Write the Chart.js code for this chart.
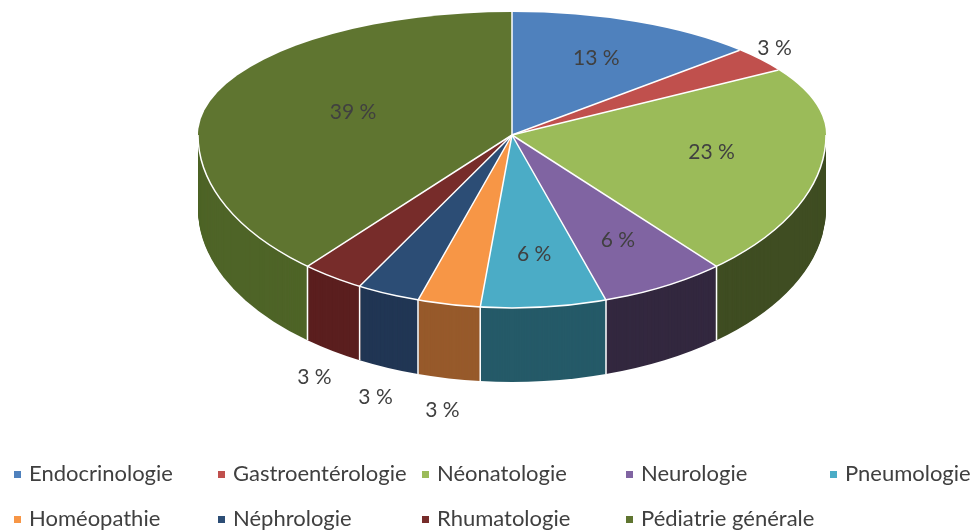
<!DOCTYPE html>
<html>
<head>
<meta charset="utf-8">
<script src="https://cdn.jsdelivr.net/npm/chart.js@4"></script>
<style>
  html, body { margin: 0; padding: 0; background: #fff; }
  canvas { display: block; }
</style>
</head>
<body>
<canvas id="pieChart" width="979" height="530"></canvas>
<script>
// Répartition par spécialité (effectifs)
const services = ["Endocrinologie", "Gastroentérologie", "Néonatologie", "Neurologie", "Pneumologie",
    "Homéopathie", "Néphrologie", "Rhumatologie", "Pédiatrie générale"];
const effectifs = [4, 1, 7, 2, 2, 1, 1, 1, 12];

const topColors = ["#4F81BD", "#C0504D", "#9BBB59", "#8064A2", "#4BACC6",
    "#F79646", "#2C4D75", "#772C2A", "#5F7530"];
const sideColors = ["#2E4D75", "#7A2E2C", "#3F4D22", "#33283F", "#255A68",
    "#975A2B", "#213654", "#5B1F1F", "#4E6427"];

// pie on screen: back half and front half have different heights (fake perspective)
const CX = 512, VY = 135, RX = 314, RY_BACK = 123, RY_FRONT = 173, DEPTH = 74;
const R = 150;
const FONT = "21px Lato, 'Open Sans', sans-serif";
const TEXT = "#404040";

function setFace(ctx, arc, ry, dy) {
    const sx = RX / R, sy = ry / R;
    ctx.setTransform(sx, 0, 0, sy, CX - sx * arc.x, VY + dy - sy * arc.y);
}

function clipY(ctx, y0, y1) {
    ctx.setTransform(1, 0, 0, 1, 0, 0);
    ctx.beginPath();
    ctx.rect(0, y0, 979, y1 - y0);
    ctx.clip();
}

const pie3d = {
    id: "pie3d",
    beforeDatasetsDraw(chart) {
        const ctx = chart.ctx;
        const arcs = chart.getDatasetMeta(0).data;
        // side walls: stack of shifted copies of the front half, bottom first
        ctx.save();
        clipY(ctx, VY, 530);
        for (let d = DEPTH; d >= 1; d--) {
            setFace(ctx, arcs[0], RY_FRONT, d);
            arcs.forEach((arc, i) => {
                const old = arc.options.backgroundColor;
                arc.options.backgroundColor = sideColors[i];
                arc.draw(ctx);
                arc.options.backgroundColor = old;
            });
        }
        ctx.restore();
        // back half of the top face is drawn by the controller
        ctx.save();
        clipY(ctx, 0, VY);
        setFace(ctx, arcs[0], RY_BACK, 0);
    },
    afterDatasetsDraw(chart) {
        const ctx = chart.ctx;
        ctx.restore();
        const arcs = chart.getDatasetMeta(0).data;
        const total = effectifs.reduce((a, b) => a + b, 0);

        // front half of the top face
        ctx.save();
        clipY(ctx, VY, 530);
        setFace(ctx, arcs[0], RY_FRONT, 0);
        arcs.forEach(arc => arc.draw(ctx));
        ctx.restore();

        const pt = (a, f) => {
            const s = Math.sin(a);
            return [CX + RX * f * Math.cos(a), VY + (s < 0 ? RY_BACK : RY_FRONT) * f * s];
        };

        ctx.save();
        ctx.strokeStyle = "#fff";
        ctx.lineWidth = 1.5;
        ctx.beginPath();
        ctx.ellipse(CX, VY, RX, RY_FRONT, 0, 0, Math.PI);
        ctx.stroke();
        arcs.forEach(arc => {
            const a = arc.startAngle;
            const [x, y] = pt(a, 1);
            ctx.beginPath();
            ctx.moveTo(CX, VY);
            ctx.lineTo(x, y);
            if (Math.sin(a) > 0.02) {
                ctx.moveTo(x, y);
                ctx.lineTo(x, y + DEPTH);
            }
            ctx.stroke();
        });

        // percentage labels
        ctx.font = FONT;
        ctx.fillStyle = TEXT;
        ctx.textAlign = "center";
        ctx.textBaseline = "middle";
        arcs.forEach((arc, i) => {
            const pct = effectifs[i] / total * 100;
            const m = (arc.startAngle + arc.endAngle) / 2;
            let x, y;
            if (pct >= 5) {
                const half = (arc.endAngle - arc.startAngle) / 2;
                const f = 1.05 * 2 * Math.sin(half) / (3 * half);
                [x, y] = pt(m, f);
            } else {
                [x, y] = pt(m, 1);
                const off = Math.sin(m) > 0 ? 32 : 18;
                x += off * Math.cos(m);
                y += off * Math.sin(m);
                if (Math.sin(m) > 0) y += DEPTH;
            }
            ctx.fillText(Math.round(pct) + " %", x, y);
        });
        ctx.restore();
    },
    afterDraw(chart) {
        // legend, 5 columns
        const ctx = chart.ctx;
        ctx.save();
        ctx.font = "22px Lato, 'Open Sans', sans-serif";
        ctx.textBaseline = "alphabetic";
        ctx.textAlign = "left";
        chart.data.labels.forEach((lab, i) => {
            const col = i % 5, row = Math.floor(i / 5);
            const x = 14 + col * 204, base = 481 + row * 45;
            ctx.fillStyle = topColors[i];
            ctx.fillRect(x, base - 10, 7, 7);
            ctx.fillStyle = TEXT;
            ctx.fillText(lab, x + 15, base);
        });
        ctx.restore();
    }
};

new Chart(document.getElementById("pieChart"), {
    type: "pie",
    data: {
        labels: services,
        datasets: [{
            data: effectifs,
            backgroundColor: topColors,
            borderWidth: 0
        }]
    },
    options: {
        responsive: false,
        animation: false,
        radius: R,
        events: [],
        plugins: {
            legend: { display: false },
            tooltip: { enabled: false }
        }
    },
    plugins: [pie3d]
});
</script>
</body>
</html>
